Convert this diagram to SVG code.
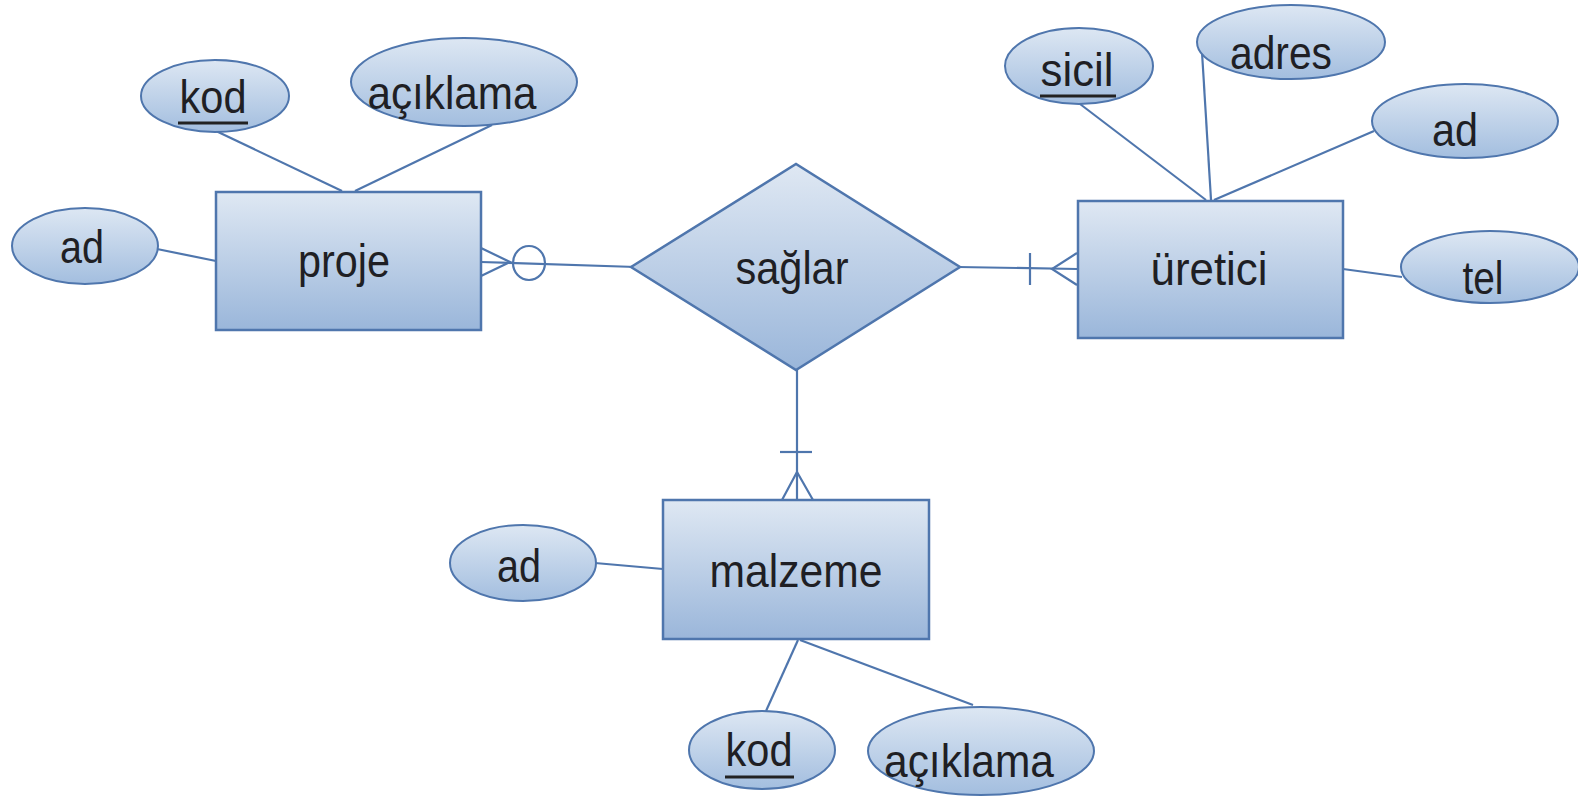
<svg xmlns="http://www.w3.org/2000/svg" width="1578" height="796" viewBox="0 0 1578 796">
<defs>
<linearGradient id="gEnt" x1="0" y1="0" x2="0" y2="1">
<stop offset="0" stop-color="#dfe8f3"/>
<stop offset="1" stop-color="#9ab6da"/>
</linearGradient>
<linearGradient id="gAtt" x1="0" y1="0" x2="0" y2="1">
<stop offset="0" stop-color="#dde7f3"/>
<stop offset="1" stop-color="#a3bedf"/>
</linearGradient>
</defs>
<style>
.ent{fill:url(#gEnt);stroke:#4f76ad;stroke-width:2.5}
.att{fill:url(#gAtt);stroke:#4f76ad;stroke-width:2}
.ln{stroke:#4f76ad;stroke-width:2.2;fill:none}
.t{font-family:"Liberation Sans",Arial,sans-serif;font-size:46px;fill:#1f1f24;text-anchor:middle}
.ul{stroke:#222;stroke-width:3}
</style>
<rect width="1578" height="796" fill="#ffffff"/>
<g id="connectors">
<line class="ln" x1="216" y1="131" x2="342" y2="191"/>
<line class="ln" x1="492" y1="125" x2="355" y2="191"/>
<line class="ln" x1="157" y1="249" x2="216" y2="261"/>
<line class="ln" x1="1080" y1="104" x2="1206" y2="200"/>
<line class="ln" x1="1202" y1="52" x2="1211" y2="200"/>
<line class="ln" x1="1374" y1="131" x2="1214" y2="200"/>
<line class="ln" x1="1343" y1="269" x2="1402" y2="277"/>
<line class="ln" x1="595" y1="563" x2="663" y2="569"/>
<line class="ln" x1="766" y1="711" x2="798" y2="640"/>
<line class="ln" x1="973" y1="705" x2="800" y2="640"/>
<line class="ln" x1="481" y1="262" x2="636" y2="267"/>
<polyline class="ln" points="481,248 510,262 481,276"/>
<ellipse class="ln" cx="529" cy="263" rx="16" ry="17"/>
<line class="ln" x1="958" y1="267" x2="1077" y2="269"/>
<line class="ln" x1="1030" y1="253" x2="1030" y2="285"/>
<polyline class="ln" points="1077,253 1052,269 1077,285"/>
<line class="ln" x1="797" y1="370" x2="797" y2="500"/>
<line class="ln" x1="780" y1="452" x2="812" y2="452"/>
<polyline class="ln" points="782,500 797,472 813,500"/>
</g>
<g id="proje">
<rect class="ent" x="216" y="192" width="265" height="138"/>
<text class="t" x="344" y="277" textLength="92" lengthAdjust="spacingAndGlyphs">proje</text>
</g>
<g id="proje-kod">
<ellipse class="att" cx="215" cy="96" rx="74" ry="36"/>
<text class="t" x="213" y="113" textLength="67" lengthAdjust="spacingAndGlyphs">kod</text>
<line class="ul" x1="178" y1="123" x2="248" y2="123"/>
</g>
<g id="proje-aciklama">
<ellipse class="att" cx="464" cy="82" rx="113" ry="44"/>
<text class="t" x="452" y="109" textLength="169" lengthAdjust="spacingAndGlyphs">açıklama</text>
</g>
<g id="proje-ad">
<ellipse class="att" cx="85" cy="246" rx="73" ry="38"/>
<text class="t" x="82" y="263" textLength="44" lengthAdjust="spacingAndGlyphs">ad</text>
</g>
<g id="saglar">
<polygon class="ent" points="631,267 796,164 960,267 796,370"/>
<text class="t" x="792" y="284" textLength="113" lengthAdjust="spacingAndGlyphs">sağlar</text>
</g>
<g id="uretici">
<rect class="ent" x="1078" y="201" width="265" height="137"/>
<text class="t" x="1209" y="285" textLength="117" lengthAdjust="spacingAndGlyphs">üretici</text>
</g>
<g id="uretici-sicil">
<ellipse class="att" cx="1079" cy="66" rx="74" ry="38"/>
<text class="t" x="1077" y="86" textLength="73" lengthAdjust="spacingAndGlyphs">sicil</text>
<line class="ul" x1="1040" y1="96" x2="1116" y2="96"/>
</g>
<g id="uretici-adres">
<ellipse class="att" cx="1291" cy="42" rx="94" ry="37"/>
<text class="t" x="1281" y="69" textLength="102" lengthAdjust="spacingAndGlyphs">adres</text>
</g>
<g id="uretici-ad">
<ellipse class="att" cx="1465" cy="121" rx="93" ry="37"/>
<text class="t" x="1455" y="146" textLength="46" lengthAdjust="spacingAndGlyphs">ad</text>
</g>
<g id="uretici-tel">
<ellipse class="att" cx="1490" cy="267" rx="89" ry="36"/>
<text class="t" x="1483" y="294" textLength="41" lengthAdjust="spacingAndGlyphs">tel</text>
</g>
<g id="malzeme">
<rect class="ent" x="663" y="500" width="266" height="139"/>
<text class="t" x="796" y="587" textLength="173" lengthAdjust="spacingAndGlyphs">malzeme</text>
</g>
<g id="malzeme-ad">
<ellipse class="att" cx="523" cy="563" rx="73" ry="38"/>
<text class="t" x="519" y="582" textLength="44" lengthAdjust="spacingAndGlyphs">ad</text>
</g>
<g id="malzeme-kod">
<ellipse class="att" cx="762" cy="750" rx="73" ry="39"/>
<text class="t" x="759" y="766" textLength="67" lengthAdjust="spacingAndGlyphs">kod</text>
<line class="ul" x1="725" y1="777" x2="794" y2="777"/>
</g>
<g id="malzeme-aciklama">
<ellipse class="att" cx="981" cy="751" rx="113" ry="44"/>
<text class="t" x="969" y="777" textLength="170" lengthAdjust="spacingAndGlyphs">açıklama</text>
</g>
</svg>
